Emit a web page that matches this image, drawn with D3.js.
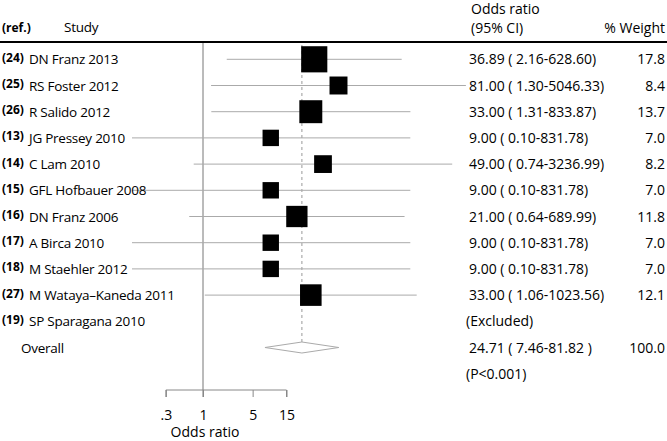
<!DOCTYPE html>
<html><head><meta charset="utf-8">
<script src="https://cdn.jsdelivr.net/npm/d3@7"></script>
<style>body{margin:0;background:#fff}svg{display:block}text{font-family:"Open Sans",sans-serif;fill:#000}</style>
</head><body><svg id="c" width="667" height="441"></svg>
<script>
const refs = ["(24)","(25)","(26)","(13)","(14)","(15)","(16)","(17)","(18)","(27)","(19)"];
const studies = ["DN Franz 2013","RS Foster 2012","R Salido 2012","JG Pressey 2010","C Lam 2010","GFL Hofbauer 2008","DN Franz 2006","A Birca 2010","M Staehler 2012","M Wataya\u2013Kaneda 2011","SP Sparagana 2010"];
const oddsRatio = [36.89,81.00,33.00,9.00,49.00,9.00,21.00,9.00,9.00,33.00,null];
const ciLow = [2.16,1.30,1.31,0.10,0.74,0.10,0.64,0.10,0.10,1.06,null];
const ciHigh = [628.60,5046.33,833.87,831.78,3236.99,831.78,689.99,831.78,831.78,1023.56,null];
const weights = [17.8,8.4,13.7,7.0,8.2,7.0,11.8,7.0,7.0,12.1,null];
const ciLabels = ["36.89 ( 2.16-628.60)","81.00 ( 1.30-5046.33)","33.00 ( 1.31-833.87)","9.00 ( 0.10-831.78)","49.00 ( 0.74-3236.99)","9.00 ( 0.10-831.78)","21.00 ( 0.64-689.99)","9.00 ( 0.10-831.78)","9.00 ( 0.10-831.78)","33.00 ( 1.06-1023.56)","(Excluded)"];
const weightLabels = ["17.8","8.4","13.7","7.0","8.2","7.0","11.8","7.0","7.0","12.1",""];
const overall = {or:24.71, lo:7.46, hi:81.82, label:"24.71 ( 7.46-81.82 )", weight:"100.0", p:"(P<0.001)"};
const tickValues = [0.3,1,5,15];
const tickLabels = [".3","1","5","15"];

const FS = "14px", NS = "13.5px", RS = "12px";
const svg = d3.select("#c");
const x = d3.scaleLog().domain([1,15]).range([203,286.5]);
const y = d3.scaleLinear().domain([0,1]).range([59.3,85.5]);
const boxK = 6.2;

function name(xp, yp, t){
  return svg.append("text").attr("x",xp).attr("y",yp).style("font-size",NS).style("letter-spacing","-0.25px").text(t);
}

// header
svg.append("text").attr("x",2).attr("y",32).style("font-size",RS).style("font-weight","bold").text("(ref.)");
name(64,32,"Study");
svg.append("text").attr("x",471).attr("y",13.5).style("font-size",FS).text("Odds ratio");
svg.append("text").attr("x",471).attr("y",32.5).style("font-size",FS).text("(95% CI)");
svg.append("text").attr("x",665).attr("y",32.5).attr("text-anchor","end").style("font-size",FS).text("% Weight");
svg.append("line").attr("x1",0).attr("x2",667).attr("y1",42).attr("y2",42).attr("stroke","#000").attr("stroke-width",2);

// null line
svg.append("line").attr("x1",x(1)).attr("x2",x(1)).attr("y1",43).attr("y2",397).attr("stroke","#777").attr("stroke-width",1);
// overall dashed line
svg.append("line").attr("x1",x(overall.or)).attr("x2",x(overall.or)).attr("y1",45).attr("y2",y(11)-5.5)
  .attr("stroke","#999").attr("stroke-width",1).attr("stroke-dasharray","3,3");

// CI lines
studies.forEach((s,i)=>{
  if(oddsRatio[i]==null) return;
  svg.append("line").attr("x1",x(ciLow[i])).attr("x2",x(ciHigh[i])).attr("y1",y(i)).attr("y2",y(i))
    .attr("stroke","#aaa").attr("stroke-width",1);
});
// boxes
studies.forEach((s,i)=>{
  if(oddsRatio[i]==null) return;
  const side = boxK*Math.sqrt(weights[i]);
  svg.append("rect").attr("x",x(oddsRatio[i])-side/2).attr("y",y(i)-side/2).attr("width",side).attr("height",side).attr("fill","#000");
});
// diamond
const yo = y(11);
svg.append("path").attr("d",`M${x(overall.lo)},${yo} L${x(overall.or)},${yo-5.5} L${x(overall.hi)},${yo} L${x(overall.or)},${yo+5.5} Z`)
  .attr("fill","#fff").attr("stroke","#aaa").attr("stroke-width",1);

// study labels
studies.forEach((s,i)=>{
  svg.append("text").attr("x",2).attr("y",y(i)+2.5).style("font-size",RS).style("font-weight","bold").text(refs[i]);
  name(29, y(i)+5, s);
  svg.append("text").attr("x",oddsRatio[i]==null?466:469).attr("y",y(i)+5).style("font-size",FS).text(ciLabels[i]);
  svg.append("text").attr("x",665).attr("y",y(i)+5).attr("text-anchor","end").style("font-size",FS).text(weightLabels[i]);
});
name(21, yo+5, "Overall");
svg.append("text").attr("x",469).attr("y",yo+5).style("font-size",FS).text(overall.label);
svg.append("text").attr("x",665).attr("y",yo+5).attr("text-anchor","end").style("font-size",FS).text(overall.weight);
svg.append("text").attr("x",466).attr("y",y(12)+5).style("font-size",FS).text(overall.p);

// axis
const axis = d3.axisBottom(x).tickValues(tickValues).tickFormat((d,i)=>tickLabels[i]).tickSize(7).tickPadding(13);
const g = svg.append("g").attr("transform","translate(0,390)").call(axis);
g.select(".domain").attr("stroke","#888").attr("d",`M${x(0.3)},7V0H${x(15)}V7`);
g.selectAll(".tick line").attr("stroke","#888");
g.selectAll(".tick text").style("font-size",FS).style("font-family","'Open Sans',sans-serif").attr("fill","#000");
svg.append("text").attr("x",205).attr("y",437).attr("text-anchor","middle").style("font-size",FS).text("Odds ratio");
</script></body></html>
